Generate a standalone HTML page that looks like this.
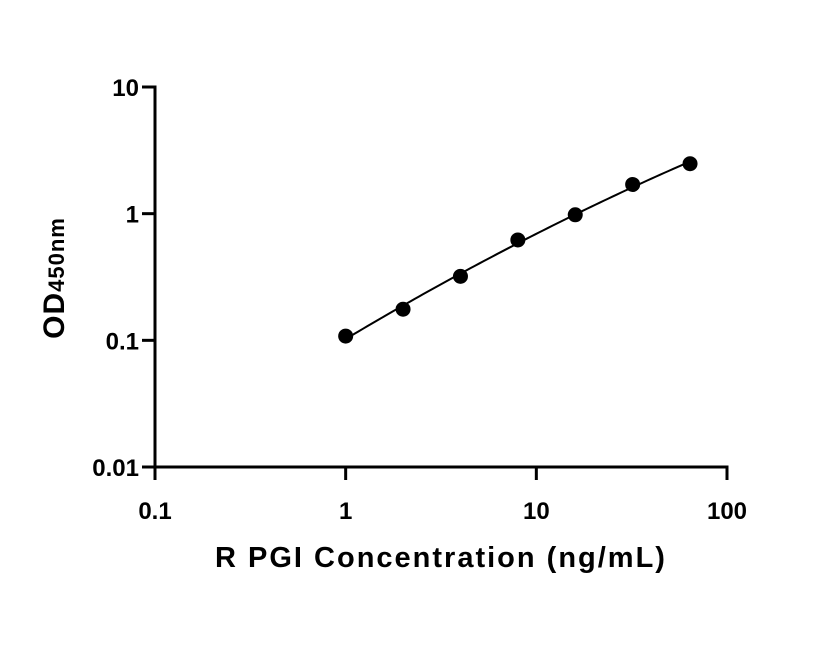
<!DOCTYPE html>
<html><head><meta charset="utf-8"><style>
html,body{margin:0;padding:0;background:#fff;}
svg text{font-family:"Liberation Sans",Arial,sans-serif;font-weight:bold;fill:#000;}
</style></head><body>
<svg id="chart" width="816" height="640" viewBox="0 0 816 640" xmlns="http://www.w3.org/2000/svg">
<g id="axes"></g><g id="series"></g>
<text x="441" y="567" font-size="29" letter-spacing="2" text-anchor="middle">R PGI Concentration (ng/mL)</text>
<text transform="translate(64,278) rotate(-90)" font-size="30" letter-spacing="1" text-anchor="middle">OD<tspan font-size="22">450nm</tspan></text>
</svg>
<script>
const concentrations=[1,2,4,8,16,32,64];
const odValues=[0.108,0.176,0.32,0.62,0.98,1.7,2.48];
const xTicks=[0.1,1,10,100];
const xTickLabels=["0.1","1","10","100"];
const yTicks=[0.01,0.1,1,10];
const yTickLabels=["0.01","0.1","1","10"];

const X0=155,X1=727,Y0=467,Y1=87;
const xs=v=>X0+(Math.log10(v)+1)/3*(X1-X0);
const ys=v=>Y0-(Math.log10(v)+2)/3*(Y0-Y1);
const NS="http://www.w3.org/2000/svg";
const axes=document.getElementById('axes'),series=document.getElementById('series');
function mk(tag,attrs,parent){const e=document.createElementNS(NS,tag);for(const k in attrs)e.setAttribute(k,attrs[k]);parent.appendChild(e);return e;}
let l=mk('line',{x1:X0,y1:Y0,x2:X1+1.5,y2:Y0,stroke:'#000','stroke-width':3},axes);


l=mk('line',{x1:X0,y1:Y0+1.5,x2:X0,y2:Y1-1.5,stroke:'#000','stroke-width':3},axes);


xTicks.forEach((v,i)=>{
 const t=mk('line',{x1:xs(v),y1:Y0,x2:xs(v),y2:Y0+13,stroke:'#000','stroke-width':3},axes);
 
 
 const tx=mk('text',{x:xs(v),y:Y0+52,'font-size':24,'text-anchor':'middle'},axes);
 tx.textContent=xTickLabels[i];
 
 
});
yTicks.forEach((v,i)=>{
 const t=mk('line',{x1:X0-13,y1:ys(v),x2:X0,y2:ys(v),stroke:'#000','stroke-width':3},axes);
 
 
 const tx=mk('text',{x:X0-16,y:ys(v)+9,'font-size':24,'text-anchor':'end'},axes);
 tx.textContent=yTickLabels[i];
 
 
});
// smooth fit: least-squares quadratic in log-log space
const lx=concentrations.map(Math.log10),ly=odValues.map(Math.log10);
const S=k=>lx.reduce((a,x)=>a+Math.pow(x,k),0);
const T=k=>lx.reduce((a,x,i)=>a+Math.pow(x,k)*ly[i],0);
const M=[[S(0),S(1),S(2),T(0)],[S(1),S(2),S(3),T(1)],[S(2),S(3),S(4),T(2)]];
for(let i=0;i<3;i++){for(let j=i+1;j<3;j++){const f=M[j][i]/M[i][i];for(let k=i;k<4;k++)M[j][k]-=f*M[i][k];}}
const c=[0,0,0];
for(let i=2;i>=0;i--){let s=M[i][3];for(let k=i+1;k<3;k++)s-=M[i][k]*c[k];c[i]=s/M[i][i];}
const xmin=lx[0],xmax=lx[lx.length-1];
let d='';
for(let n=0;n<=80;n++){const x=xmin+(xmax-xmin)*n/80;const y=c[0]+c[1]*x+c[2]*x*x;d+=(n?'L':'M')+xs(Math.pow(10,x))+','+ys(Math.pow(10,y));}
const path=mk('path',{d:d,fill:'none',stroke:'#000','stroke-width':2},series);


concentrations.forEach((cv,i)=>{
 const cc=mk('circle',{cx:xs(cv),cy:ys(odValues[i]),r:7.5,fill:'#000'},series);
 
 
});
</script>
</body></html>
